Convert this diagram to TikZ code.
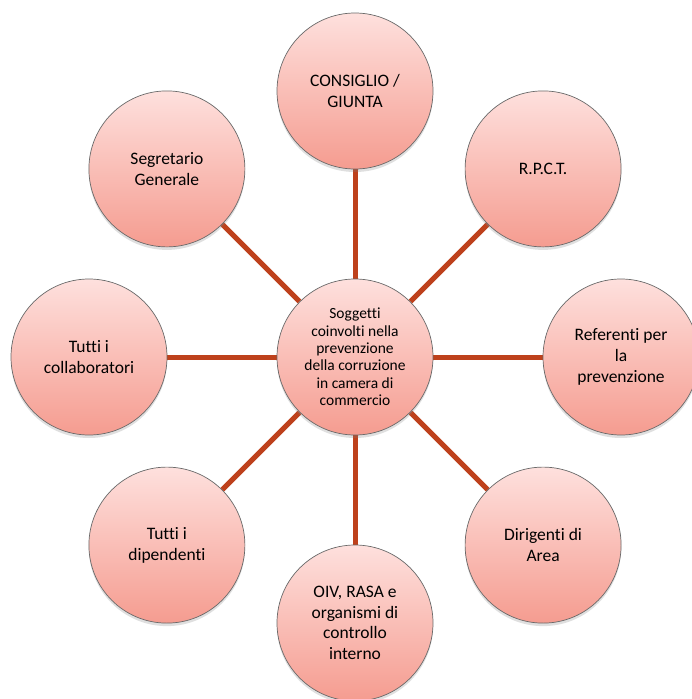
\documentclass[tikz,border=0pt]{standalone}
\usepackage{fontspec}
\setmainfont{Carlito}[Ligatures=NoCommon]
\usetikzlibrary{shadows,backgrounds}
\definecolor{linkred}{RGB}{190,65,28}
\definecolor{ctop}{RGB}{254,224,221}
\definecolor{cbot}{RGB}{245,156,144}
\definecolor{cedge}{RGB}{105,105,105}
\begin{document}
\begin{tikzpicture}[x=1pt,y=-1pt,
  bubble/.style={circle, minimum size=156pt, inner sep=0pt, draw=cedge, line width=0.7pt,
    top color=ctop, bottom color=cbot, align=center, text=black,
    font=\fontsize{17.5}{20.7}\selectfont,
    drop shadow={shadow xshift=0pt, shadow yshift=-3pt, opacity=0.25}},
  hub/.style={bubble, font=\fontsize{15.5}{17.4}\selectfont},
  link/.style={draw=linkred, line width=5pt}]
\useasboundingbox (0,0) rectangle (692,699);
\node[hub] (hub) at (355,357) {Soggetti\\coinvolti nella\\prevenzione\\della corruzione\\in camera di\\commercio};
\node[bubble] (cons) at (355,91) {CONSIGLIO /\\GIUNTA};
\node[bubble] (rpct) at (543.1,168.9) {R.P.C.T.};
\node[bubble] (ref) at (621,357) {Referenti per\\la\\prevenzione};
\node[bubble] (dir) at (543.1,545.1) {Dirigenti di\\Area};
\node[bubble] (oiv) at (355,623) {OIV, RASA e\\organismi di\\controllo\\interno};
\node[bubble] (dip) at (166.9,545.1) {Tutti i\\dipendenti};
\node[bubble] (coll) at (89,357) {Tutti i\\collaboratori};
\node[bubble] (seg) at (166.9,168.9) {Segretario\\Generale};
\begin{scope}[on background layer]
\fill[white] (0,0) rectangle (692,699);
\foreach \n in {cons,rpct,ref,dir,oiv,dip,coll,seg}
  \draw[link] (hub) -- (\n);
\end{scope}
\end{tikzpicture}
\end{document}
